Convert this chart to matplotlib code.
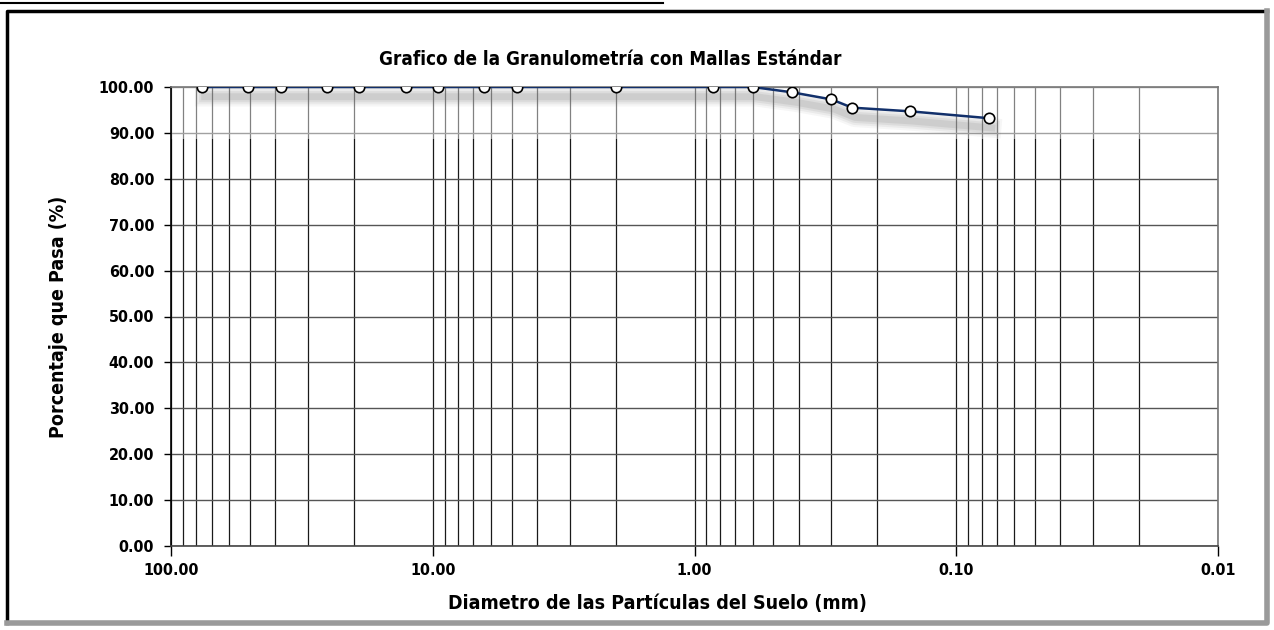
import matplotlib
matplotlib.use('Agg')
import matplotlib.pyplot as plt
import matplotlib.patheffects as pe
from matplotlib.lines import Line2D
from matplotlib.ticker import FixedLocator, LogLocator, NullFormatter, FormatStrFormatter

plt.rcParams['font.family'] = ['DejaVu Sans']
plt.rcParams['font.stretch'] = 'condensed'
plt.rcParams['font.weight'] = 'bold'

###  DATA  ###
abertura_mm = [76.2, 50.8, 38.1, 25.4, 19.05, 12.7, 9.525, 6.35, 4.76,
               2.0, 0.85, 0.6, 0.425, 0.3, 0.25, 0.15, 0.075]
pasa_pct = [100.0, 100.0, 100.0, 100.0, 100.0, 100.0, 100.0, 100.0, 100.0,
            100.0, 100.0, 100.0, 98.85, 97.3, 95.5, 94.7, 93.2]
x_ticks = [100, 10, 1, 0.1, 0.01]
x_ticklabels = ['100.00', '10.00', '1.00', '0.10', '0.01']
y_ticks = [0, 10, 20, 30, 40, 50, 60, 70, 80, 90, 100]

###  PLOT  ###
fig = plt.figure(figsize=(12.74, 6.30), dpi=100)
ax = fig.add_axes([171/1274, 1 - 546/630, (1218-171)/1274, (546-87)/630])

ax.set_xscale('log')
ax.set_xlim(100, 0.01)
ax.set_ylim(0, 100)

# grid
ax.set_axisbelow(True)
ax.xaxis.set_minor_locator(LogLocator(base=10, subs=range(2, 10)))
ax.xaxis.set_minor_formatter(NullFormatter())
ax.grid(which='both', axis='x', color='#1a1a1a', lw=0.9)
ax.grid(which='major', axis='y', color='#555555', lw=1.0)
ax.axhspan(88.6, 100, color='white', alpha=0.45, lw=0, zorder=1)

# soft shadow under the curve
shadow = []
for w, a in [(14, 0.06), (11, 0.08), (8, 0.10), (5, 0.12)]:
    shadow.append(pe.SimpleLineShadow(offset=(2, -7), shadow_color='#666666',
                                      alpha=a, linewidth=w))
ax.plot(abertura_mm, pasa_pct, '-', color='#12306b', lw=1.8, zorder=3,
        path_effects=shadow + [pe.Normal()])
ax.plot(abertura_mm, pasa_pct, 'o', markerfacecolor='white', markeredgecolor='black',
        mew=1.2, markersize=7.5, zorder=4)

ax.xaxis.set_major_locator(FixedLocator(x_ticks))
ax.set_xticklabels(x_ticklabels)
ax.set_yticks(y_ticks)
ax.yaxis.set_major_formatter(FormatStrFormatter('%.2f'))
ax.tick_params(axis='x', which='major', direction='out', length=7, width=1, pad=5, labelsize=11.5)
ax.tick_params(axis='x', which='minor', length=0)
ax.tick_params(axis='y', direction='out', length=5, width=1, pad=7, labelsize=11.5)

for s in ['top', 'right']:
    ax.spines[s].set_color('#777777')
ax.spines['bottom'].set_color('#444444')
ax.spines['left'].set_color('black')
for s in ax.spines.values():
    s.set_linewidth(1.2)

ax.set_title('Grafico de la Granulometría con Mallas Estándar', fontsize=13.5,
             fontweight='bold', pad=16, x=0.42)
ax.set_xlabel('Diametro de las Partículas del Suelo (mm)', fontsize=14,
              fontweight='bold', labelpad=12, x=0.465)
ax.set_ylabel('Porcentaje que Pasa (%)', fontsize=14, fontweight='bold', labelpad=22)

# outer frame: dark left/top, grey shadowed right/bottom
L, R, B, T = 7/1274, 1267/1274, 1 - 623/630, 1 - 11/630
fig.lines.append(Line2D([L, L, R], [B, T, T], transform=fig.transFigure,
                        color='black', lw=2.5))
fig.lines.append(Line2D([R, R, L], [T, B, B], transform=fig.transFigure,
                        color='#9a9a9a', lw=4))
fig.lines.append(Line2D([0, 663/1274], [1 - 3/630, 1 - 3/630],
                        transform=fig.transFigure, color='black', lw=1.5))

fig.savefig('out.png', dpi=100)
